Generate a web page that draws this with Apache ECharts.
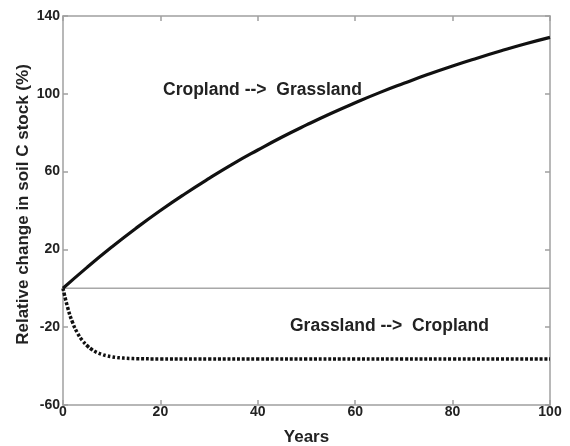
<!DOCTYPE html>
<html>
<head>
<meta charset="utf-8">
<script src="https://cdn.jsdelivr.net/npm/echarts@6/dist/echarts.min.js"></script>
<style>html,body{margin:0;padding:0;background:#fff}#c{width:570px;height:446px}</style>
</head>
<body>
<div id="c"></div>
<script>
// Cropland --> Grassland (solid curve)
var yearsUp = [0,5,10,15,20,25,30,35,40,45,50,55,60,65,70,75,80,85,90,95,100];
var valuesUp = [0,10.9,21.2,30.9,40.0,48.5,56.5,64.1,71.1,77.8,84.0,89.9,95.4,100.6,105.4,110.0,114.3,118.3,122.1,125.7,129.0];
// Grassland --> Cropland (dotted curve)
var yearsDown = [0,1,2,3,4,5,6,7,8,9,10,11,12,13,14,15,20,30,40,50,60,70,80,90,100];
var valuesDown = [0,-10.3,-17.8,-23.1,-26.9,-29.6,-31.6,-33.0,-34.0,-34.7,-35.2,-35.6,-35.8,-36.0,-36.1,-36.2,-36.3,-36.3,-36.3,-36.3,-36.3,-36.3,-36.3,-36.3,-36.3];
var xTicks = [0,20,40,60,80,100];
var yTicks = [-60,-20,20,60,100,140];

var font = 'Liberation Sans, Arial, sans-serif';
var chart = echarts.init(document.getElementById('c'), null, {renderer:'canvas'});
function pairs(xs, ys){ return xs.map(function(x,i){return [x, ys[i]];}); }
var axisLineStyle = {color:'#a0a0a0', width:1.5};
chart.setOption({
  animation:false,
  backgroundColor:'#fff',
  grid:{left:63, right:20, top:16, bottom:41, containLabel:false, outerBoundsMode:'none'},
  xAxis:[{
    type:'value', min:0, max:100, interval:20,
    name:'Years', nameLocation:'middle', nameGap:24, nameMoveOverlap:false,
    nameTextStyle:{fontFamily:font, fontWeight:'bold', fontSize:17, color:'#222'},
    axisLine:{show:true, onZero:false, lineStyle:axisLineStyle},
    axisTick:{show:true, inside:true, length:5, lineStyle:axisLineStyle},
    axisLabel:{fontFamily:font, fontWeight:'bold', fontSize:14, color:'#222', margin:0},
    splitLine:{show:false}
  },{
    type:'value', min:0, max:100, interval:20, position:'top',
    axisLine:{show:true, onZero:false, lineStyle:axisLineStyle},
    axisTick:{show:true, inside:true, length:5, lineStyle:axisLineStyle},
    axisLabel:{show:false}, splitLine:{show:false}
  }],
  yAxis:[{
    type:'value', min:-60, max:140, interval:20,
    name:'Relative change in soil C stock (%)', nameLocation:'middle', nameGap:31, nameMoveOverlap:false,
    nameTextStyle:{fontFamily:font, fontWeight:'bold', fontSize:17, color:'#222', padding:[0,0,0,12]},
    axisLine:{show:true, onZero:false, lineStyle:axisLineStyle},
    axisTick:{show:true, inside:true, length:5, lineStyle:axisLineStyle, customValues:yTicks},
    axisLabel:{fontFamily:font, fontWeight:'bold', fontSize:14, color:'#222', margin:3, customValues:yTicks},
    splitLine:{show:false}
  },{
    type:'value', min:-60, max:140, interval:20, position:'right',
    axisLine:{show:true, onZero:false, lineStyle:axisLineStyle},
    axisTick:{show:true, inside:true, length:5, lineStyle:axisLineStyle, customValues:yTicks},
    axisLabel:{show:false}, splitLine:{show:false}
  }],
  series:[{
    type:'line', data:[[0,0],[100,0]], symbol:'none', silent:true,
    lineStyle:{color:'#a8a8a8', width:1.5}
  },{
    type:'line', data:pairs(yearsUp, valuesUp), smooth:true, symbol:'none',
    lineStyle:{color:'#111', width:3.2}
  },{
    type:'line', data:pairs(yearsDown, valuesDown), smooth:true, symbol:'none',
    lineStyle:{color:'#111', width:3.5, type:[3,1.8], cap:'butt'}
  }],
  graphic:[{
    type:'text', left:163, top:81,
    style:{text:'Cropland -->  Grassland', fontFamily:font, fontWeight:'bold', fontSize:17.5, fill:'#222'}
  },{
    type:'text', left:290, top:317,
    style:{text:'Grassland -->  Cropland', fontFamily:font, fontWeight:'bold', fontSize:17.5, fill:'#222'}
  }]
});
</script>
</body>
</html>
